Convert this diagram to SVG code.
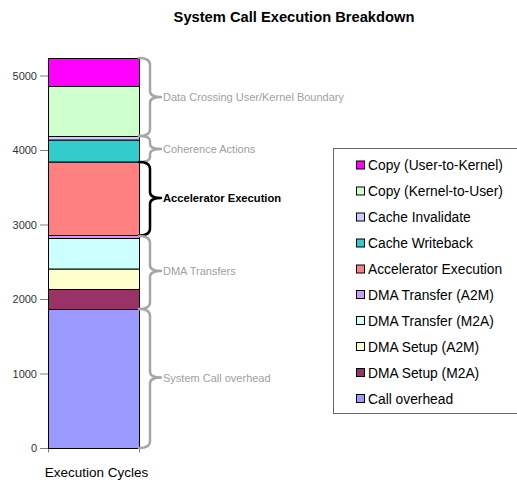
<svg xmlns="http://www.w3.org/2000/svg" width="517" height="485" viewBox="0 0 517 485">
<style>
text{font-family:"Liberation Sans",Arial,sans-serif}
.title{font-size:14.7px;font-weight:bold;fill:#000}
.ax{font-size:11px;fill:#333}
.lbl{font-size:11px;fill:#a0a0a0}
.lblb{font-size:11.2px;font-weight:bold;fill:#000}
.leg{font-size:13.8px;fill:#000}
.seg{stroke:#000;stroke-width:1}
.sw{stroke:#000;stroke-width:1}
.brace{fill:none;stroke:#a6a6a6;stroke-width:2.5;stroke-linejoin:round;stroke-linecap:round}
.braceb{fill:none;stroke:#000;stroke-width:2.5;stroke-linejoin:round;stroke-linecap:round}
.axis{stroke:#808080;stroke-width:1;fill:none}
</style>
<rect width="517" height="485" fill="#fff"/>
<text class="title" x="294" y="22" text-anchor="middle">System Call Execution Breakdown</text>

<g id="axis">
<path class="axis" d="M48.5,58 V448.5 M40,448.5 H48.5 M40,374 H48.5 M40,299.5 H48.5 M40,225 H48.5 M40,150.5 H48.5 M40,76 H48.5 M48.5,448.5 H139.5 M48.5,448.5 V452.5 M139.5,448.5 V452.5"/>
<text class="ax" x="37" y="452" text-anchor="end">0</text>
<text class="ax" x="37" y="377.5" text-anchor="end">1000</text>
<text class="ax" x="37" y="303" text-anchor="end">2000</text>
<text class="ax" x="37" y="228.5" text-anchor="end">3000</text>
<text class="ax" x="37" y="154" text-anchor="end">4000</text>
<text class="ax" x="37" y="79.5" text-anchor="end">5000</text>
<text x="96.5" y="477" text-anchor="middle" style="font-size:13.5px;fill:#000">Execution Cycles</text>
</g>

<g id="bar">
<rect id="seg-call" class="seg" x="48.5" y="309.5" width="91" height="139" fill="#9999FF"/>
<rect id="seg-setup-m2a" class="seg" x="48.5" y="289.5" width="91" height="20" fill="#993366"/>
<rect id="seg-setup-a2m" class="seg" x="48.5" y="269" width="91" height="20.5" fill="#FFFFCC"/>
<rect id="seg-xfer-m2a" class="seg" x="48.5" y="238.5" width="91" height="30.5" fill="#CCFFFF"/>
<rect id="seg-xfer-a2m" class="seg" x="48.5" y="235.5" width="91" height="3" fill="#CC99FF"/>
<rect id="seg-accel" class="seg" x="48.5" y="162" width="91" height="73.5" fill="#FF8080"/>
<rect id="seg-wb" class="seg" x="48.5" y="140" width="91" height="22" fill="#33CCCC"/>
<rect id="seg-inv" class="seg" x="48.5" y="136.5" width="91" height="3.5" fill="#CCCCFF"/>
<rect id="seg-k2u" class="seg" x="48.5" y="86.5" width="91" height="50" fill="#CCFFCC"/>
<rect id="seg-u2k" class="seg" x="48.5" y="58.5" width="91" height="28" fill="#FF00FF"/>
</g>

<g id="connectors">
<path class="brace" d="M139,58 Q150,58 150,65 L150,91 Q150,97 161,97 Q150,97 150,103 L150,129 Q150,136 139,136"/>
<path class="brace" d="M139,136 Q150,136 150,141 L150,144 Q150,149 161,149 Q150,149 150,154 L150,157 Q150,162 139,162"/>
<path class="braceb" d="M139,162 Q150,162 150,169 L150,192 Q150,198 161,198 Q150,198 150,204 L150,228.5 Q150,235.5 139,235.5"/>
<path class="brace" d="M139,236 Q150,236 150,243 L150,265 Q150,271 161,271 Q150,271 150,277 L150,302 Q150,309 139,309"/>
<path class="brace" d="M139,309 Q150,309 150,316 L150,371.5 Q150,377.5 161,377.5 Q150,377.5 150,383.5 L150,441 Q150,448 139,448"/>
</g>

<g id="brace-labels">
<text class="lbl" x="163" y="101">Data Crossing User/Kernel Boundary</text>
<text class="lbl" x="163" y="153">Coherence Actions</text>
<text class="lblb" x="163" y="202">Accelerator Execution</text>
<text class="lbl" x="163" y="275">DMA Transfers</text>
<text class="lbl" x="163" y="381.5">System Call overhead</text>
</g>

<g id="legend">
<rect x="333.5" y="148.5" width="190" height="265" fill="#fff" stroke="#666" stroke-width="1"/>
<g id="leg-u2k"><rect class="sw" x="356.5" y="161" width="8" height="8" fill="#FF00FF"/><text class="leg" x="368" y="170">Copy (User-to-Kernel)</text></g>
<g id="leg-k2u"><rect class="sw" x="356.5" y="187" width="8" height="8" fill="#CCFFCC"/><text class="leg" x="368" y="196">Copy (Kernel-to-User)</text></g>
<g id="leg-inv"><rect class="sw" x="356.5" y="213" width="8" height="8" fill="#CCCCFF"/><text class="leg" x="368" y="222">Cache Invalidate</text></g>
<g id="leg-wb"><rect class="sw" x="356.5" y="239" width="8" height="8" fill="#33CCCC"/><text class="leg" x="368" y="248">Cache Writeback</text></g>
<g id="leg-accel"><rect class="sw" x="356.5" y="265" width="8" height="8" fill="#FF8080"/><text class="leg" x="368" y="274">Accelerator Execution</text></g>
<g id="leg-xa2m"><rect class="sw" x="356.5" y="290.5" width="8" height="8" fill="#CC99FF"/><text class="leg" x="368" y="299.5">DMA Transfer (A2M)</text></g>
<g id="leg-xm2a"><rect class="sw" x="356.5" y="316.5" width="8" height="8" fill="#CCFFFF"/><text class="leg" x="368" y="325.5">DMA Transfer (M2A)</text></g>
<g id="leg-sa2m"><rect class="sw" x="356.5" y="342.5" width="8" height="8" fill="#FFFFCC"/><text class="leg" x="368" y="351.5">DMA Setup (A2M)</text></g>
<g id="leg-sm2a"><rect class="sw" x="356.5" y="368.5" width="8" height="8" fill="#993366"/><text class="leg" x="368" y="377.5">DMA Setup (M2A)</text></g>
<g id="leg-call"><rect class="sw" x="356.5" y="394.5" width="8" height="8" fill="#9999FF"/><text class="leg" x="368" y="403.5">Call overhead</text></g>
</g>
</svg>
